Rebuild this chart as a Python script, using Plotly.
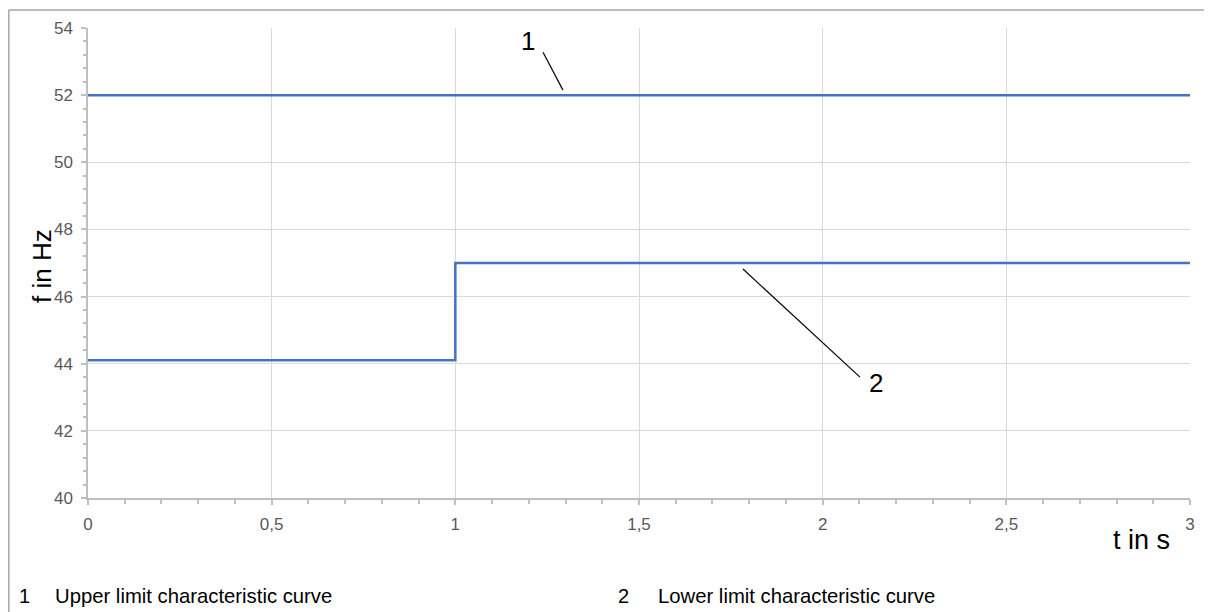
import plotly.graph_objects as go

# Data
upper_t = [0, 3]
upper_f = [52, 52]
lower_t = [0, 1, 1, 3]
lower_f = [44.1, 44.1, 47, 47]

x_title = "t in s"
y_title = "f in Hz"
legend_nums = ["1", "2"]
legend_texts = ["Upper limit characteristic curve", "Lower limit characteristic curve"]

# callout lines: (label, text_x, text_y, line x0, y0, x1, y1)
callouts = [
    ("1", 1.198, 53.61, 1.2387, 53.28, 1.293, 52.15),
    ("2", 2.145, 43.43, 1.783, 46.82, 2.1016, 43.6),
]

blue = "#4472C4"
fig = go.Figure()
fig.add_trace(go.Scatter(x=upper_t, y=upper_f, mode="lines",
                         line=dict(color=blue, width=2.5), showlegend=False))
fig.add_trace(go.Scatter(x=lower_t, y=lower_f, mode="lines",
                         line=dict(color=blue, width=2.5), showlegend=False))

font_family = "Liberation Sans, Arial, sans-serif"
grid = "#d9d9d9"
axis_col = "#bfbfbf"

# page places the plot 8px from the top-left corner
PL, PT, PW, PH = 88, 28, 1102, 470  # plot area in screen px


def px(sx):
    return (sx - PL) / PW


def py(sy):
    return (PT + PH - sy) / PH


fig.update_layout(
    width=1204, height=604,
    margin=dict(l=80, r=22, t=20, b=114),
    paper_bgcolor="white", plot_bgcolor="white",
    separators=",.",
    font=dict(family=font_family),
    xaxis=dict(range=[0, 3], dtick=0.5, tick0=0, showgrid=True, gridcolor=grid, gridwidth=1,
               zeroline=False, showline=True, linecolor=axis_col, linewidth=1.5,
               ticks="outside", ticklen=5, tickcolor=axis_col, tickwidth=1.5,
               tickfont=dict(size=17, color="#595959"), ticklabelstandoff=5,
               minor=dict(dtick=0.1, ticks="outside", ticklen=4, tickcolor=axis_col, showgrid=False)),
    yaxis=dict(range=[40, 54], dtick=2, tick0=40, showgrid=True, gridcolor=grid, gridwidth=1,
               zeroline=False, showline=True, linecolor=axis_col, linewidth=1.5,
               ticks="outside", ticklen=5, tickcolor=axis_col, tickwidth=1.5,
               tickfont=dict(size=17, color="#595959"), ticklabelstandoff=5,
               minor=dict(dtick=0.4, ticks="outside", ticklen=3, tickcolor=axis_col, showgrid=False)),
)

# Frame lines (top and left)
fig.add_shape(type="line", xref="paper", yref="paper", x0=px(8.8), x1=px(1230), y0=py(10), y1=py(10),
              line=dict(color="#a6a6a6", width=1.5))
fig.add_shape(type="line", xref="paper", yref="paper", x0=px(8.8), x1=px(8.8), y0=py(10), y1=py(640),
              line=dict(color="#a6a6a6", width=1.5))

for lab, tx, ty, x0, y0, x1, y1 in callouts:
    fig.add_shape(type="line", xref="x", yref="y", x0=x0, y0=y0, x1=x1, y1=y1,
                  line=dict(color="black", width=1.2))
    fig.add_annotation(x=tx, y=ty, xref="x", yref="y", text=lab, showarrow=False,
                       xanchor="center", yanchor="middle",
                       font=dict(size=26, color="black", family=font_family))

# Axis titles
fig.add_annotation(x=px(42), y=py(266), xref="paper", yref="paper", text=y_title,
                   textangle=-90, showarrow=False, xanchor="center", yanchor="middle",
                   font=dict(size=26, color="black", family=font_family))
fig.add_annotation(x=px(1141), y=py(540), xref="paper", yref="paper", text=x_title,
                   showarrow=False, xanchor="center", yanchor="middle",
                   font=dict(size=27, color="black", family=font_family))

# Legend text
legend_num_x = [17, 616]
legend_txt_x = [53, 656]
for n, t, nx, tx in zip(legend_nums, legend_texts, legend_num_x, legend_txt_x):
    fig.add_annotation(x=px(nx), y=py(596), xref="paper", yref="paper", text=n,
                       showarrow=False, xanchor="left", yanchor="middle",
                       font=dict(size=20, color="black", family=font_family))
    fig.add_annotation(x=px(tx), y=py(596), xref="paper", yref="paper", text=t,
                       showarrow=False, xanchor="left", yanchor="middle",
                       font=dict(size=20.3, color="black", family=font_family))

fig.write_html("out.html")
